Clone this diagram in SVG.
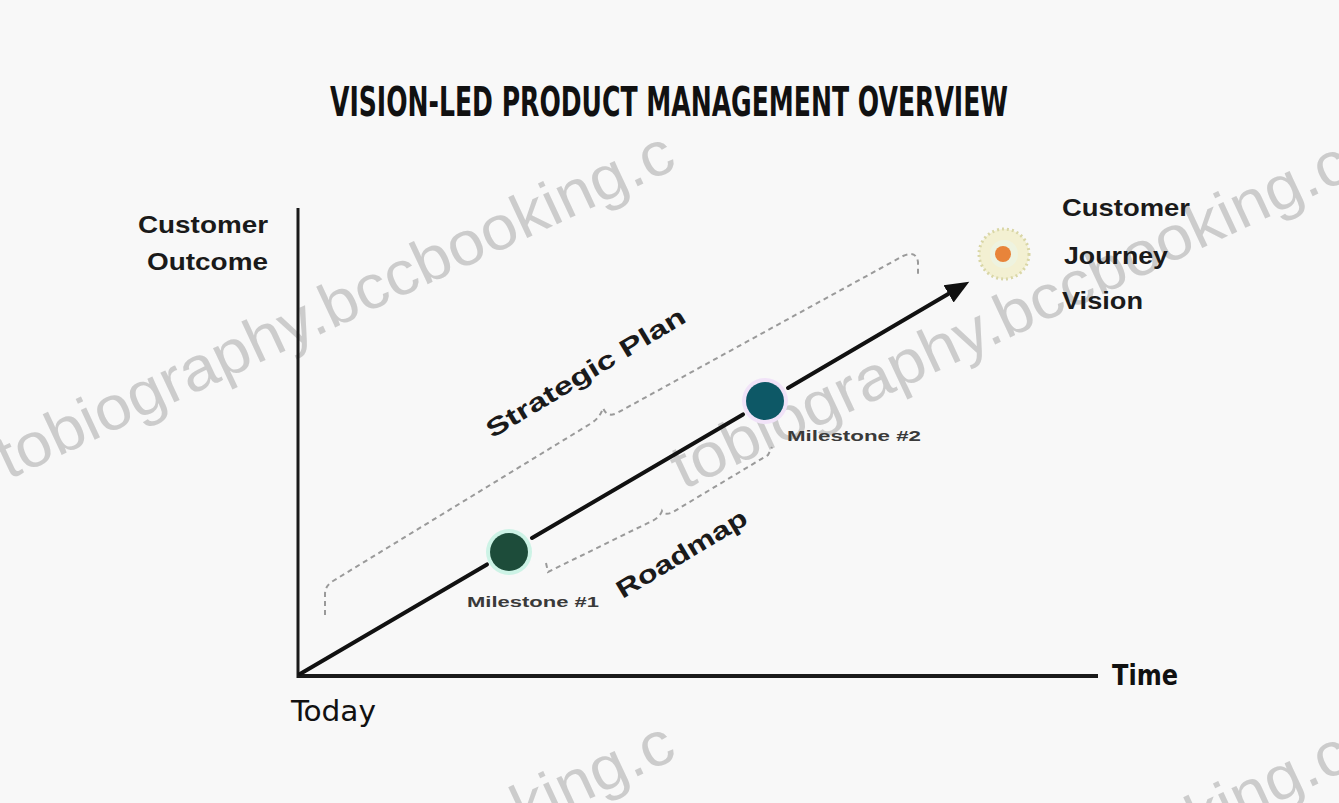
<svg xmlns="http://www.w3.org/2000/svg" width="1339" height="803" viewBox="0 0 1339 803">
<style>
.wm{font-family:"Liberation Sans",Arial,sans-serif;font-size:62px;fill:#c2c2c2;opacity:0.8}
.lbl{font-family:"Liberation Sans",Arial,sans-serif;font-weight:bold;fill:#1a1a1a}
.cond{font-family:"DejaVu Sans Condensed","Liberation Sans Narrow","Liberation Sans",sans-serif;font-stretch:condensed;fill:#111}
.ms{font-family:"Liberation Sans",Arial,sans-serif;font-size:15px;font-weight:bold;fill:#3a3a3a}
.axis{stroke:#1a1a1a;fill:none;stroke-linecap:butt}
.main{stroke:#111;stroke-width:4;fill:none;stroke-linecap:round}
.brace{stroke:#9a9a9a;stroke-width:2;fill:none;stroke-dasharray:5 4}
</style>
<defs>
<marker id="ah" markerUnits="userSpaceOnUse" markerWidth="26" markerHeight="24" refX="4" refY="12" orient="auto">
<path d="M0,2 L24,12 L0,22 Z" fill="#111"/>
</marker>
</defs>
<rect x="0" y="0" width="1339" height="803" fill="#f8f8f8"/>

<g id="watermarks">
<text class="wm" transform="translate(8,480) rotate(-25)" textLength="740" lengthAdjust="spacingAndGlyphs">tobiography.bccbooking.c</text>
<text class="wm" transform="translate(683,490) rotate(-25)" textLength="740" lengthAdjust="spacingAndGlyphs">tobiography.bccbooking.c</text>
<text class="wm" transform="translate(8,1070) rotate(-25)" textLength="740" lengthAdjust="spacingAndGlyphs">tobiography.bccbooking.c</text>
<text class="wm" transform="translate(683,1080) rotate(-25)" textLength="740" lengthAdjust="spacingAndGlyphs">tobiography.bccbooking.c</text>
</g>

<g id="title">
<text class="cond" x="669" y="116" text-anchor="middle" font-size="41" font-weight="bold" textLength="678" lengthAdjust="spacingAndGlyphs">VISION-LED PRODUCT MANAGEMENT OVERVIEW</text>
</g>

<g id="axes">
<line class="axis" x1="298" y1="208" x2="298" y2="678" stroke-width="3"/>
<line class="axis" x1="297" y1="676" x2="1098" y2="676" stroke-width="4"/>
</g>

<g id="y-axis-label">
<text class="lbl" x="268" y="233" text-anchor="end" font-size="24" textLength="130" lengthAdjust="spacingAndGlyphs">Customer</text>
<text class="lbl" x="268" y="270" text-anchor="end" font-size="24" textLength="121" lengthAdjust="spacingAndGlyphs">Outcome</text>
</g>

<g id="x-axis-label">
<text class="cond" x="1112" y="685" font-size="28" font-weight="bold" textLength="66" lengthAdjust="spacingAndGlyphs">Time</text>
</g>

<g id="today">
<text class="cond" x="291" y="721" font-size="29" textLength="85" lengthAdjust="spacingAndGlyphs">Today</text>
</g>

<g id="connectors">
<path class="main" d="M300,674 L487,564.4"/>
<path class="main" d="M532,538 L743,414.4"/>
<path class="main" d="M788,388 L952,291.8" marker-end="url(#ah)"/>
<path class="brace" d="M325,615 L325,594 Q325,586 333,581 L590,424 Q600,418 603,408 Q607,418 617,413 L903,256 Q916,250 918,262 L918,274"/>
<path class="brace" d="M546,563 L548,572 L652,521 Q660,517 662,511 Q665,516 673,512 L768,455 L772,447"/>
</g>

<g id="strategic-plan">
<text class="lbl" transform="translate(590,380) rotate(-31)" text-anchor="middle" font-size="25" textLength="228" lengthAdjust="spacingAndGlyphs">Strategic Plan</text>
</g>

<g id="roadmap">
<text class="lbl" transform="translate(686,561) rotate(-31)" text-anchor="middle" font-size="25" textLength="148" lengthAdjust="spacingAndGlyphs">Roadmap</text>
</g>

<g id="milestone-1">
<circle cx="509" cy="552" r="23" fill="#cdf3e6"/>
<circle cx="509" cy="552" r="19" fill="#1d4c3a"/>
<text class="ms" x="533" y="607" text-anchor="middle" textLength="132" lengthAdjust="spacingAndGlyphs">Milestone #1</text>
</g>

<g id="milestone-2">
<circle cx="765" cy="401" r="23" fill="#f1e3f8"/>
<circle cx="765" cy="401" r="19" fill="#0d5866"/>
<text class="ms" x="854" y="441" text-anchor="middle" textLength="134" lengthAdjust="spacingAndGlyphs">Milestone #2</text>
</g>

<g id="vision">
<circle cx="1004" cy="254" r="25" fill="#f3f0d2" stroke="#d9d6a6" stroke-width="3" stroke-dasharray="2 3"/>
<circle cx="1004" cy="254" r="14" fill="#eef3e0"/>
<circle cx="1003" cy="254" r="8" fill="#e8843a"/>
<text class="lbl" x="1062" y="216" font-size="24" textLength="128" lengthAdjust="spacingAndGlyphs">Customer</text>
<text class="lbl" x="1064" y="264" font-size="24" textLength="104" lengthAdjust="spacingAndGlyphs">Journey</text>
<text class="lbl" x="1062" y="309" font-size="24" textLength="81" lengthAdjust="spacingAndGlyphs">Vision</text>
</g>
</svg>
